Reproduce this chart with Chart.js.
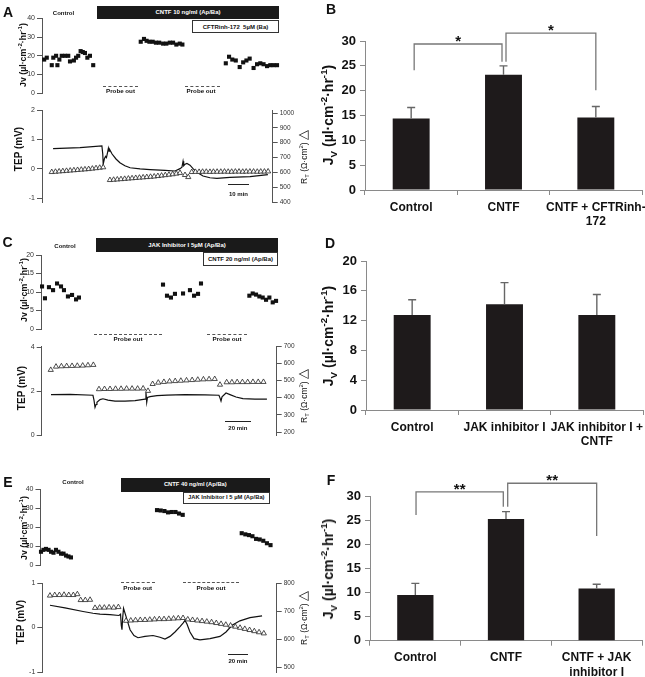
<!DOCTYPE html>
<html><head><meta charset="utf-8">
<script src="https://cdn.jsdelivr.net/npm/chart.js@4.4.0/dist/chart.umd.min.js"></script>
<style>
html,body{margin:0;padding:0;background:#fff;}
#wrap{position:relative;width:645px;height:677px;overflow:hidden;font-family:"Liberation Sans",Arial,sans-serif;}
canvas{position:absolute;}
.t{position:absolute;white-space:nowrap;color:#111;font-weight:bold;line-height:1;}
.bx{position:absolute;box-sizing:border-box;display:flex;align-items:center;justify-content:center;font-weight:bold;white-space:nowrap;line-height:1;}
.ln{position:absolute;height:0;}
sup,sub{font-size:70%;line-height:0;}
</style></head><body><div id="wrap"></div>
<script>
// ================= DATA =================
// Panel A (time in min)
const aJvTime  = [1,2.2,4.5,5.2,6.5,7.1,8,9.1,10.6,12.1,12.9,14.7,15.7,16.7,17.8,18.8,19.8,20.9,22.1,23.6,
                  45.5,47,48.2,49.5,51,52.5,54,55.8,57.3,58.9,60.4,61.9,63.5,64.7,
                  84.7,86.2,87.7,89.3,91.1,92.7,94.2,95.7,97.5,99.1,100.6,102.1,103.7,105.2,106.7,108.3];
const aJvValue = [18,19,15,19,20,15,18,20,20,20,17,17.5,19,20,22.5,22,21.5,19,20,15,
                  27.5,29,28,27.5,27.5,27,27,26.5,26.5,27,27,26,26.5,26,
                  16,19.5,18,17.5,14,16.5,17.5,18.5,13.5,15.5,16,15.5,14.5,15,15,15];
const aTepTime  = [5.1,17.5,27.6,28,28.2,28.8,29.3,29.7,30.2,30.6,30.9,31.2,32.3,34.1,35.9,38.2,40.6,45.2,49.8,56.7,61.3,63.6,64.5,65,65.3,65.9,66.8,68.2,69.6,71.4,74.2,77.4,80.6,86.6,95.9,104.1];
const aTepValue = [0.68,0.72,0.78,0.5,0.15,0.35,0.42,0.38,0.55,0.7,0.6,0.65,0.5,0.33,0.2,0.1,0.03,-0.01,-0.03,-0.06,-0.08,0,0.05,0.25,0.1,0.15,0.18,0.12,0,-0.12,-0.25,-0.31,-0.33,-0.3,-0.27,-0.2];
const aRtTime  = [4.5,6.2,7.9,9.6,11.3,13,14.7,16.4,18.1,19.8,21.5,23.2,24.9,26.6,28.2,
                  31.3,33,34.7,36.4,38.1,39.8,41.5,43.2,44.9,46.6,48.3,50,51.7,53.4,55.1,56.8,58.5,60.2,61.9,63.6,
                  65.9,67.4,
                  69,70.7,72.4,74,75.7,77.4,79,80.7,82.4,84.1,85.8,87.4,89.1,90.8,92.5,94.1,95.8,97.5,99.2,100.8,102.5,104.2];
const aRtValue = [602,604,606,608,610,612,614,616,618,620,622,625,628,631,634,
                  548,550,552,554,556,558,560,562,564,566,568,570,572,575,578,581,584,587,591,596,
                  582,568,
                  602,603,603,604,604,603,604,604,604,605,604,604,605,605,604,605,605,605,604,605,605,606];
const aJvTicks = [0,10,20,30,40];
const aTepTicks = [-1,0,1,2];
const aRtTicks = [400,500,600,700,800,900,1000];

// Panel C
const cJvTime  = [0.8,3.1,6.2,9.4,12.5,15.6,17.9,21,24.2,27.3,29.6,
                  95.1,98.2,101.3,104.4,110.7,116.1,119.3,122.4,124.7,
                  162.4,165,167.6,170.2,172.8,175.4,178,180.6,183.2];
const cJvValue = [11.5,8.3,11.3,10.5,12.3,11.5,10.5,8.8,9.2,8,8.5,
                  12,9,8.5,9.5,9.6,10.5,9,9.5,12.3,
                  9,9.6,9.3,8.8,8.5,7.9,8.5,7.2,7.6];
const cTepTime  = [7.8,22.6,40.5,41.3,42.1,42.9,43.6,46,48.3,52.2,57.7,65.5,73.3,81.1,81.8,82.4,83,85,90.4,98.2,112.2,127.8,138.7,139.5,140.3,141.1,144.2,147.3,152,157.4,166.7,176.1];
const cTepValue = [1.85,1.86,1.82,1.6,1.27,1.4,1.5,1.62,1.66,1.6,1.55,1.55,1.58,1.64,1.95,1.5,1.72,1.76,1.8,1.83,1.85,1.84,1.82,1.7,1.56,1.75,1.92,1.85,1.74,1.67,1.64,1.64];
const cRtTime  = [7.6,11.7,15.9,20,24.2,28.3,32.5,36.6,40.8,
                  45.2,49.5,53.8,58.1,62.4,66.7,71,75.3,79.6,
                  83.4,
                  87,91.4,95.8,100.2,104.6,109,113.4,117.8,122.2,126.6,131,135.4,
                  139.5,
                  144.7,148.8,152.9,157,161.1,165.2,169.3,173.4];
const cRtValue = [561,580,582,583,584,585,586,588,590,
                  449,450,450,451,451,452,452,452,453,
                  439,
                  479,487,491,494,496,498,500,502,504,506,507,508,
                  475,
                  489,489,490,490,490,491,491,491];
const cJvTicks = [0,5,10,15,20];
const cTepTicks = [0,2,4];
const cRtTicks = [200,300,400,500,600,700];

// Panel E
const eJvTime  = [0,2.4,4.8,7.3,9.7,12.1,14.5,16.9,19.4,21.8,24.2,26.6,29,
                  112.3,115.9,119.5,123,126.6,130.2,133.6,137.2,
                  194.3,197.8,201.3,204.7,208.2,211.7,215.2,218.7,222.2];
const eJvValue = [7,8,8.5,8,7,6.5,8,7,6,6,5,4.5,4,
                  29,28.8,28.5,27.8,28,28,27.2,26.5,
                  16.8,16.2,15.8,15.2,13.8,13.5,12.8,11.5,10.5];
const eTepTime  = [8.7,23.2,40.7,50.3,57.1,66.8,75.5,77,77.7,78.4,79,79.9,82.3,86.2,90,93.9,100.7,108.4,115.2,120,124.9,129.7,134.6,137.5,139.4,141.3,144.2,148.1,153.9,163.6,173.3,179.1,185,192.6,202.3,214];
const eTepValue = [0.5,0.44,0.36,0.32,0.3,0.29,0.27,0.3,0.05,-0.05,0.2,0.43,0.25,-0.05,-0.18,-0.23,-0.2,-0.18,-0.22,-0.26,-0.2,-0.1,0.02,0.1,0.16,0.08,-0.1,-0.25,-0.28,-0.25,-0.2,-0.1,0.05,0.15,0.22,0.26];
const eRtTime  = [8.7,13.3,17.8,22.3,26.9,31.3,35.2,
                  38.4,42.9,47.5,
                  52.3,56.8,61.3,65.9,70.4,74.9,
                  82.3,86.9,91.5,96.1,100.7,105.3,109.9,114.5,119.1,123.7,128.3,132.9,137.5,142.1,146.7,151.3,155.9,160.5,165.1,169.7,174.3,178.9,183.5,188.1,192.7,197.3,201.9,206.5,211.1,215.7];
const eRtValue = [755,757,757,758,757,757,760,
                  739,739,740,
                  711,712,712,713,712,714,
                  665,666,667,668,668,669,670,671,671,672,673,674,675,670,668,666,664,662,660,657,654,651,648,644,640,636,632,628,624,620];
const eJvTicks = [0,10,20,30,40];
const eTepTicks = [-1,0,1];
const eRtTicks = [500,600,700,800];

// Panel B
const bCategories = ['Control','CNTF',['CNTF + CFTRinh-','172']];
const bMeans  = [14.4,23.2,14.6];
const bErrors = [2.2,1.8,2.2];
const bTicks  = [0,5,10,15,20,25,30];
const bSignif = [{from:0,to:1,top:29.4,leftEnd:24.1,rightEnd:25.8,mark:'*'},
                 {from:1,to:2,top:31.6,leftEnd:25.8,rightEnd:20.1,mark:'*'}];
// Panel D
const dCategories = ['Control','JAK inhibitor I',['JAK inhibitor I +','CNTF']];
const dMeans  = [12.75,14.2,12.75];
const dErrors = [2.05,2.9,2.75];
const dTicks  = [0,4,8,12,16,20];
// Panel F
const fCategories = ['Control','CNTF',['CNTF + JAK','inhibitor I']];
const fMeans  = [9.5,25.35,10.9];
const fErrors = [2.45,1.55,0.85];
const fTicks  = [0,5,10,15,20,25,30];
const fSignif = [{from:0,to:1,top:31,leftEnd:26.2,rightEnd:27.9,mark:'**'},
                 {from:1,to:2,top:32.8,leftEnd:27.9,rightEnd:21.8,mark:'**'}];

// ================= RENDERING =================
const FONT = '"Liberation Sans", Arial, sans-serif';
Chart.defaults.font.family = FONT;
const W = document.getElementById('wrap');

function mk(b){ const c=document.createElement('canvas'); c.width=b[2]; c.height=b[3];
  c.style.left=b[0]+'px'; c.style.top=b[1]+'px'; c.style.width=b[2]+'px'; c.style.height=b[3]+'px';
  W.appendChild(c); return c; }
function zip(xs,ys){ return xs.map((x,i)=>({x:x,y:ys[i]})); }
function lin(an,p){ return an[0]+(p-an[1])*(an[2]-an[0])/(an[3]-an[1]); }

function yScaleOpts(pos, anchors, area, ticks, width){
  return { type:'linear', position:pos,
    min: lin(anchors, area.bottom), max: lin(anchors, area.top),
    afterBuildTicks: s => { s.ticks = ticks.map(v=>({value:v})); },
    afterFit: s => { s.width = width; s.paddingTop = 0; s.paddingBottom = 0; },
    border:{display:true,color:'#555',width:1},
    grid:{display:true,drawOnChartArea:false,drawTicks:true,tickLength:5,color:'#555',lineWidth:1},
    ticks:{autoSkip:false,padding:2,color:'#333',font:{family:FONT,size:7},callback:v=>String(v)} };
}

function timeChart(c){
  const cv = mk(c.box), a = c.area;
  const scales = {
    x:{type:'linear',display:false,min:(a.left-c.x0)/c.k,max:(a.right-c.x0)/c.k},
    y: yScaleOpts('left', c.yL, a, c.yLTicks, a.left-c.box[0])
  };
  let padRight = c.box[0]+c.box[2]-a.right;
  if (c.yR){ scales.y2 = yScaleOpts('right', c.yR, a, c.yRTicks, padRight);
    scales.y2.ticks.font.size = 6.5; padRight = 0; }
  new Chart(cv,{type:'scatter',data:{datasets:c.datasets},
    options:{responsive:false,animation:false,events:[],
      layout:{padding:{left:0,right:padRight,top:a.top-c.box[1],bottom:c.box[1]+c.box[3]-a.bottom}},
      plugins:{legend:{display:false},tooltip:{enabled:false}},scales}});
}
function squares(t,v){ return {data:zip(t,v),pointStyle:'rect',pointRadius:2.9,backgroundColor:'#111',borderWidth:0,showLine:false,clip:false}; }
function triangles(t,v){ return {data:zip(t,v),yAxisID:'y2',pointStyle:'triangle',pointRadius:3,backgroundColor:'#fff',borderColor:'#222',borderWidth:0.8,showLine:false,clip:false}; }
function trace(t,v){ return {data:zip(t,v),yAxisID:'y',showLine:true,pointRadius:0,borderColor:'#111',borderWidth:1.2,tension:0,clip:false}; }

function barPlugin(errors, signif, legDx){
  return {id:'errsig', afterDatasetsDraw(chart){
    const ctx=chart.ctx, meta=chart.getDatasetMeta(0), ys=chart.scales.y, vals=chart.data.datasets[0].data;
    ctx.save();
    ctx.strokeStyle='#666'; ctx.lineWidth=1.4;
    meta.data.forEach((bar,i)=>{
      const x=bar.x, yt=ys.getPixelForValue(vals[i]+errors[i]), yb=ys.getPixelForValue(vals[i]);
      ctx.beginPath(); ctx.moveTo(x,yb); ctx.lineTo(x,yt); ctx.moveTo(x-4,yt); ctx.lineTo(x+4,yt); ctx.stroke();
    });
    (signif||[]).forEach((s,j)=>{
      const x1=meta.data[s.from].x+legDx[j][0], x2=meta.data[s.to].x+legDx[j][1];
      const yT=ys.getPixelForValue(s.top);
      ctx.strokeStyle='#777'; ctx.lineWidth=1.3;
      ctx.beginPath(); ctx.moveTo(x1,ys.getPixelForValue(s.leftEnd)); ctx.lineTo(x1,yT);
      ctx.lineTo(x2,yT); ctx.lineTo(x2,ys.getPixelForValue(s.rightEnd)); ctx.stroke();
      ctx.fillStyle='#111'; ctx.font='bold 15px '+FONT; ctx.textAlign='center'; ctx.textBaseline='middle';
      ctx.fillText(s.mark,(x1+x2)/2,yT-2);
    });
    ctx.restore();
  }};
}

function barChart(c){
  const cv = mk(c.box), a = c.area;
  const ys = yScaleOpts('left', c.yL, a, c.ticks, a.left-c.box[0]);
  ys.ticks = {autoSkip:false,padding:4,color:'#111',font:{family:FONT,size:13,weight:'bold'},callback:v=>String(v)};
  ys.border.color='#8a8a8a'; ys.grid.color='#8a8a8a';
  const xs = {type:'category',offset:true,
    grid:{display:true,offset:true,drawOnChartArea:false,drawTicks:true,tickLength:5,color:'#8a8a8a'},
    border:{display:true,color:'#8a8a8a'},
    ticks:{autoSkip:false,maxRotation:0,minRotation:0,padding:5,color:'#111',font:{family:FONT,size:12,weight:'bold'}},
    afterFit: s => { s.height = c.box[1]+c.box[3]-a.bottom; s.paddingLeft=0; s.paddingRight=0; }};
  new Chart(cv,{type:'bar',
    data:{labels:c.labels,datasets:[{data:c.values,backgroundColor:'#1e1a1b',borderWidth:0,barPercentage:0.4,categoryPercentage:1}]},
    options:{responsive:false,animation:false,events:[],
      layout:{padding:{left:0,right:c.box[0]+c.box[2]-a.right,top:a.top-c.box[1],bottom:0}},
      plugins:{legend:{display:false},tooltip:{enabled:false}},
      scales:{x:xs,y:ys}},
    plugins:[barPlugin(c.errors,c.signif,c.legDx||[])]});
}

// ---- Panel A ----
timeChart({box:[0,0,290,100],area:{left:42,right:280,top:18.3,bottom:93.3},x0:42,k:2.17,
  yL:[40,18.3,0,93.3],yLTicks:aJvTicks,datasets:[squares(aJvTime,aJvValue)]});
timeChart({box:[0,100,300,110],area:{left:42,right:272.7,top:110,bottom:202},x0:42,k:2.17,
  yL:[2,110,-1,198],yLTicks:aTepTicks,yR:[1000,113,400,202],yRTicks:aRtTicks,
  datasets:[triangles(aRtTime,aRtValue),trace(aTepTime,aTepValue)]});
// ---- Panel C ----
timeChart({box:[0,235,290,100],area:{left:41,right:280,top:255,bottom:329},x0:41,k:1.283,
  yL:[20,255,0,329],yLTicks:cJvTicks,datasets:[squares(cJvTime,cJvValue)]});
timeChart({box:[0,337,305,105],area:{left:41.7,right:276.7,top:346,bottom:435.3},x0:41,k:1.283,
  yL:[4,347.3,0,435.3],yLTicks:cTepTicks,yR:[700,346,200,432],yRTicks:cRtTicks,
  datasets:[triangles(cRtTime,cRtValue),trace(cTepTime,cTepValue)]});
// ---- Panel E ----
timeChart({box:[0,480,290,90],area:{left:40.5,right:275,top:489.3,bottom:565},x0:41,k:1.033,
  yL:[40,489.3,0,565],yLTicks:eJvTicks,datasets:[squares(eJvTime,eJvValue)]});
timeChart({box:[0,575,305,102],area:{left:42.3,right:276.7,top:583,bottom:672},x0:41,k:1.033,
  yL:[1,583,-1,672],yLTicks:eTepTicks,yR:[800,583,500,667],yRTicks:eRtTicks,
  datasets:[triangles(eRtTime,eRtValue),trace(eTepTime,eTepValue)]});

// ---- Bar panels ----
barChart({box:[330,0,315,225],area:{left:365,right:642,top:41,bottom:190},yL:[30,41,0,190],
  ticks:bTicks,labels:bCategories,values:bMeans,errors:bErrors,signif:bSignif,legDx:[[3,-1.5],[2.5,0]]});
barChart({box:[330,225,315,225],area:{left:366,right:643,top:261,bottom:410},yL:[20,261,0,410],
  ticks:dTicks,labels:dCategories,values:dMeans,errors:dErrors});
barChart({box:[330,450,315,227],area:{left:370,right:642,top:496.7,bottom:640.7},yL:[30,496.7,0,640.7],
  ticks:fTicks,labels:fCategories,values:fMeans,errors:fErrors,signif:fSignif,legDx:[[0.7,-2.7],[1.7,0]]});

// ---- Annotations ----
function txt(html,x,y,fs,rot,extra){ const d=document.createElement('div'); d.className='t'; d.innerHTML=html;
  d.style.left=x+'px'; d.style.top=y+'px'; d.style.fontSize=fs+'px';
  d.style.transform='translate(-50%,-50%)'+(rot?' rotate(-90deg)':'');
  if(extra) Object.assign(d.style,extra); W.appendChild(d); }
function box(l,t,w,h,html,dark,fs){ const d=document.createElement('div'); d.className='bx'; d.innerHTML=html;
  Object.assign(d.style,{left:l+'px',top:t+'px',width:w+'px',height:h+'px',fontSize:fs+'px',
    background:dark?'#1a1a1a':'#fff',color:dark?'#fff':'#111',border:dark?'none':'1px solid #333'}); W.appendChild(d); }
function hline(x1,x2,y,style){ const d=document.createElement('div'); d.className='ln';
  Object.assign(d.style,{left:x1+'px',top:y+'px',width:(x2-x1)+'px',borderTop:style}); W.appendChild(d); }

// panel letters
txt('A',8,11.5,14); txt('B',331,8.5,14); txt('C',7.5,242,14); txt('D',330,243,14); txt('E',8,482,14); txt('F',331,480,14);

// A annotations
txt('Control',63.5,13,6);
box(97,6,182,12.5,'CNTF 10 ng/ml (Ap/Ba)',true,6);
box(192,20,87,13,'CFTRinh-172&nbsp; 5µM (Ba)',false,6);
hline(103,138,86,'1px dashed #555'); hline(185,220,86,'1px dashed #555');
txt('Probe out',120.5,90.7,6.2); txt('Probe out',201,90.7,6.2);
hline(227.7,249.3,184.3,'1px solid #222'); txt('10 min',238.5,193.5,6);
txt('Jv (µl·cm<sup>-2</sup>·hr<sup>-1</sup>)',23,55,8.8,true);
txt('TEP (mV)',19,149,10,true);
txt('R<sub>T</sub> (Ω·cm<sup>2</sup>) <span style="font-size:13px;font-weight:normal">△</span>',302,157,8.5,true,{fontWeight:'normal'});

// C annotations
txt('Control',65,245.7,6);
box(96,238.3,182,13.4,'JAK Inhibitor I 5µM (Ap/Ba)',true,6);
box(203,252.3,75,13.4,'CNTF 20 ng/ml (Ap/Ba)',false,6);
hline(94,161.7,334,'1px dashed #555'); hline(206.7,246.7,334,'1px dashed #555');
txt('Probe out',128,339.3,6.2); txt('Probe out',227,339.3,6.2);
hline(225,250.7,420.7,'1px solid #222'); txt('20 min',237.8,428,6);
txt('Jv (µl·cm<sup>-2</sup>·hr<sup>-1</sup>)',24,290,8.8,true);
txt('TEP (mV)',21.5,388,10,true);
txt('R<sub>T</sub> (Ω·cm<sup>2</sup>) <span style="font-size:13px;font-weight:normal">△</span>',301.5,396,8.5,true,{fontWeight:'normal'});

// E annotations
txt('Control',73,481.7,6);
box(120.7,478.3,149.3,13.4,'CNTF 40 ng/ml (Ap/Ba)',true,5.8);
box(182.7,492.3,87.3,12,'JAK Inhibitor I 5 µM (Ap/Ba)',false,5.8);
hline(120.7,155,581.7,'1px dashed #555'); hline(183.3,239.3,581.7,'1px dashed #555');
txt('Probe out',137.7,588.3,6.2); txt('Probe out',211,588.3,6.2);
hline(227.7,248.3,654.3,'1px solid #222'); txt('20 min',238,661,6);
txt('Jv (µl·cm<sup>-2</sup>·hr<sup>-1</sup>)',24,528,8.8,true);
txt('TEP (mV)',21,622,10,true);
txt('R<sub>T</sub> (Ω·cm<sup>2</sup>) <span style="font-size:13px;font-weight:normal">△</span>',301.5,618,8.5,true,{fontWeight:'normal'});

// bar chart axis titles
const jvBig = 'J<sub>V</sub> (µl·cm<sup>-2</sup>·hr<sup>-1</sup>)';
txt(jvBig,328,115,14,true); txt(jvBig,328,336,14,true); txt(jvBig,328,569,14,true);
</script></body></html>
